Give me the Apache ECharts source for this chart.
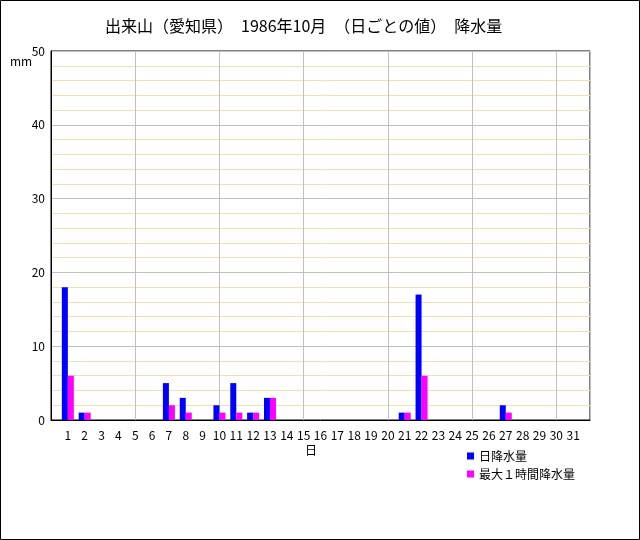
<!DOCTYPE html>
<html>
<head>
<meta charset="utf-8">
<script src="https://cdn.jsdelivr.net/npm/echarts@6/dist/echarts.min.js"></script>
<style>html,body{margin:0;padding:0;background:#fff}#c{width:640px;height:540px}</style>
</head>
<body>
<div id="c"></div>
<script>
var days = [1,2,3,4,5,6,7,8,9,10,11,12,13,14,15,16,17,18,19,20,21,22,23,24,25,26,27,28,29,30,31];
var dailyPrecip = [18,1,0,0,0,0,5,3,0,2,5,1,3,0,0,0,0,0,0,0,1,17,0,0,0,0,2,0,0,0,0];
var maxHourly   = [6,1,0,0,0,0,2,1,0,1,1,1,3,0,0,0,0,0,0,0,1,6,0,0,0,0,1,0,0,0,0];
var yTicks = [0,10,20,30,40,50];
var seriesNames = ['日降水量','最大１時間降水量'];
var titleText = '出来山（愛知県）　1986年10月　（日ごとの値）　降水量';

var font = '"Noto Sans CJK JP", sans-serif';
var chart = echarts.init(document.getElementById('c'), null, {renderer:'canvas'});
function pairs(vals){ return days.map(function(d,i){ return [d, vals[i]]; }); }
chart.setOption({
  animation:false,
  backgroundColor:'#fff',
  title:{text:titleText,left:100,top:13,textStyle:{fontFamily:font,fontSize:16,fontWeight:'normal',color:'#000'}},
  grid:{left:51,top:51,right:50,bottom:120,show:true,borderColor:'#000',borderWidth:1,backgroundColor:'transparent'},
  legend:{orient:'vertical',left:462,top:445,itemWidth:7,itemHeight:7,itemGap:6,icon:'rect',
    textStyle:{fontFamily:font,fontSize:12,color:'#000'},data:seriesNames},
  xAxis:[{
    type:'value',min:0,max:32,interval:1,
    axisLine:{show:true,lineStyle:{color:'#000'}},axisTick:{show:false},splitLine:{show:false},
    axisLabel:{fontFamily:font,fontSize:12,color:'#000',margin:9,
      formatter:function(v){ return (v>=1 && v<=31)? String(v):''; }}
  },{
    type:'value',min:0,max:32,interval:5,position:'bottom',
    axisLine:{show:false},axisTick:{show:false},axisLabel:{show:false},
    splitLine:{show:true,lineStyle:{color:'#c0c0c0',width:1}}
  }],
  yAxis:{
    type:'value',min:0,max:50,interval:10,
    axisLine:{show:true,lineStyle:{color:'#000'}},axisTick:{show:false},
    axisLabel:{fontFamily:font,fontSize:12,color:'#000',margin:6,
      formatter:function(v){ return yTicks.indexOf(v)>=0? String(v):''; }},
    splitLine:{show:true,lineStyle:{color:'#c0c0c0',width:1}},
    minorTick:{show:false,splitNumber:5},
    minorSplitLine:{show:true,lineStyle:{color:'#f5deb3',width:1}}
  },
  graphic:[
    {type:'rect',shape:{x:0.5,y:0.5,width:639,height:539},style:{fill:'none',stroke:'#000',lineWidth:1},silent:true,z:100},
    {type:'text',left:10,top:55,style:{text:'mm',fontFamily:font,fontSize:12,fill:'#000'}},
    {type:'text',left:305,top:444,style:{text:'日',fontFamily:font,fontSize:12,fill:'#000'}}
  ],
  series:[
    {name:seriesNames[0],type:'bar',xAxisIndex:0,data:pairs(dailyPrecip),barWidth:6,barGap:'0%',itemStyle:{color:'#0000ff'}},
    {name:seriesNames[1],type:'bar',xAxisIndex:0,data:pairs(maxHourly),barWidth:6,barGap:'0%',itemStyle:{color:'#ff00ff'}}
  ]
});
</script>
</body>
</html>
